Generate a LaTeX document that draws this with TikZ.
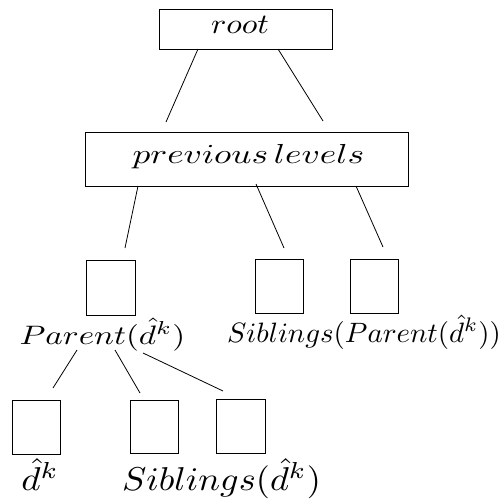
\documentclass[tikz,border=0pt]{standalone}
\begin{document}
\begin{tikzpicture}[x=1pt,y=-1pt,
  box/.style={draw, line width=0.9pt, inner sep=0pt},
  edge/.style={line width=0.8pt},
  lab/.style={inner sep=0pt, anchor=base}]
\useasboundingbox (0,0) rectangle (498,500);
\clip (0,0) rectangle (498,500);
% boxes
\node[box, minimum width=173pt, minimum height=40pt] (root) at (245.5,29) {};
\node[box, minimum width=323pt, minimum height=54pt] (prev) at (246.5,159) {};
\node[box, minimum width=49pt, minimum height=55pt] (parent) at (110.5,287.5) {};
\node[box, minimum width=48pt, minimum height=54pt] (sibA) at (279,286) {};
\node[box, minimum width=48pt, minimum height=54pt] (sibB) at (374,286) {};
\node[box, minimum width=48pt, minimum height=54pt] (dk) at (36,427) {};
\node[box, minimum width=48pt, minimum height=53pt] (sibC) at (154,426.5) {};
\node[box, minimum width=49pt, minimum height=54pt] (sibD) at (240.5,426) {};
% labels
\node[lab] (rootl) at (240,34) {\scalebox{3.2}[2.8]{$root$}};
\node[lab] (prevl) at (248.5,163) {\scalebox{3.53}[2.75]{$previous\,levels$}};
\node[lab] (parl) at (102.5,344) {\scalebox{3.31}[2.67]{$Parent(\hat{d}^k)$}};
\node[lab] (sibpl) at (364,342) {\scalebox{2.89}[2.8]{$Siblings(Parent(\hat{d}^k))$}};
\node[lab] (dl) at (40,490) {\scalebox{3.7}[3.3]{$\hat{d}^k$}};
\node[lab] (sibl) at (221.5,490) {\scalebox{3.63}[3.3]{$Siblings(\hat{d}^k)$}};
% connector end points
\coordinate (r1) at (198,49);  \coordinate (p1) at (166,122);
\coordinate (r2) at (278,49);  \coordinate (p2) at (323,121);
\coordinate (q1) at (138,186); \coordinate (c1) at (125,248);
\coordinate (q2) at (256,184); \coordinate (c2) at (284,248);
\coordinate (q3) at (356,186); \coordinate (c3) at (383,247);
\coordinate (l1) at (77,350);  \coordinate (k1) at (53,388);
\coordinate (l2) at (115,350); \coordinate (k2) at (140,393);
\coordinate (l3) at (143,353); \coordinate (k3) at (223,391);
% connectors
\draw[edge] (r1) -- (p1);
\draw[edge] (r2) -- (p2);
\draw[edge] (q1) -- (c1);
\draw[edge] (q2) -- (c2);
\draw[edge] (q3) -- (c3);
\draw[edge] (l1) -- (k1);
\draw[edge] (l2) -- (k2);
\draw[edge] (l3) -- (k3);
\end{tikzpicture}
\end{document}
